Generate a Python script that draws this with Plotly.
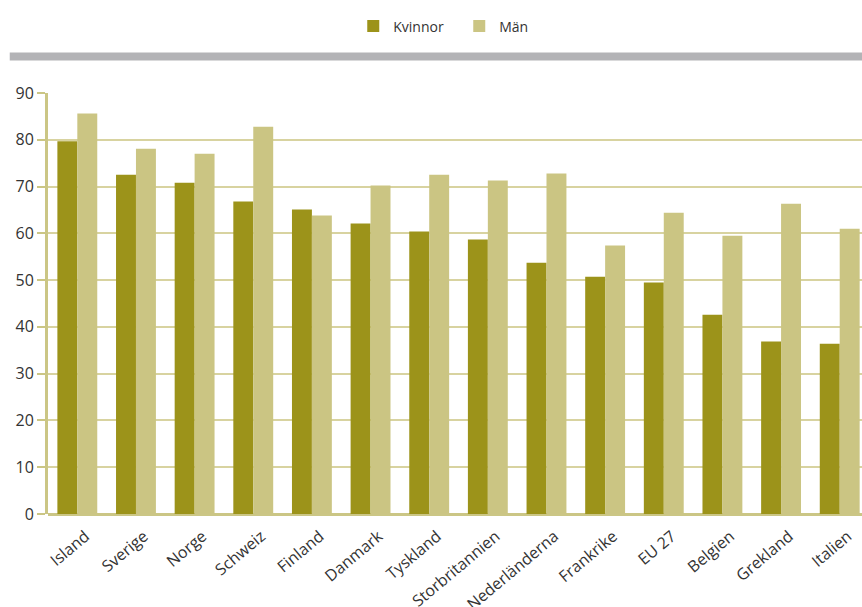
import plotly.graph_objects as go

categories = ["Island", "Sverige", "Norge", "Schweiz", "Finland", "Danmark", "Tyskland",
              "Storbritannien", "Nederländerna", "Frankrike", "EU 27", "Belgien", "Grekland", "Italien"]
kvinnor = [79.7, 72.5, 70.8, 66.8, 65.1, 62.1, 60.4, 58.7, 53.7, 50.7, 49.5, 42.6, 36.9, 36.4]
man = [85.6, 78.1, 77.0, 82.8, 63.8, 70.2, 72.5, 71.3, 72.8, 57.4, 64.4, 59.5, 66.3, 61.0]
y_ticks = [0, 10, 20, 30, 40, 50, 60, 70, 80, 90]

C_K = "#9c931a"
C_M = "#cbc583"
C_AX = "#cbc685"
C_GRID = "#d8d3a0"
FONT = "Open Sans"

fig = go.Figure()
fig.add_trace(go.Bar(name="Kvinnor", x=categories, y=kvinnor, marker=dict(color=C_K, line=dict(width=0))))
fig.add_trace(go.Bar(name="Män", x=categories, y=man, marker=dict(color=C_M, line=dict(width=0))))

fig.update_layout(
    width=862, height=607,
    margin=dict(l=48, r=0, t=93, b=93, autoexpand=False),
    paper_bgcolor="white", plot_bgcolor="white",
    barmode="group", bargap=0.32, bargroupgap=0,
    font=dict(family=FONT, color="#333333"),
    legend=dict(orientation="h", x=0.375, xanchor="left", y=1.158, yanchor="middle",
                font=dict(size=14, color="#333333", family=FONT),
                entrywidth=61, entrywidthmode="pixels",
                traceorder="normal", itemclick=False),
    showlegend=True,
)
fig.update_xaxes(
    type="category", range=[-0.5, 13.38],
    tickangle=-40, tickfont=dict(size=16, color="#333333", family=FONT),
    showline=False, showgrid=False, ticks="",
    ticklabelstandoff=9, ticklabelshift=8,
)
fig.update_yaxes(
    range=[0, 90], tickvals=y_ticks, ticktext=[str(v) for v in y_ticks],
    tickfont=dict(size=16, color="#333333", family=FONT),
    showgrid=True, gridcolor=C_GRID, gridwidth=2,
    zeroline=True, zerolinecolor=C_AX, zerolinewidth=3,
    showline=True, linecolor=C_AX, linewidth=3,
    ticks="outside", ticklen=8, tickwidth=2, tickcolor=C_AX,
)
# grey band under legend
fig.add_shape(type="rect", xref="paper", yref="paper",
              x0=-0.047, x1=1.0, y0=1.077, y1=1.096,
              fillcolor="#b3b3b6", line=dict(width=0), layer="above")

fig.write_html("out.html", config={"displayModeBar": False},
               post_script="document.body.style.margin='0';")
